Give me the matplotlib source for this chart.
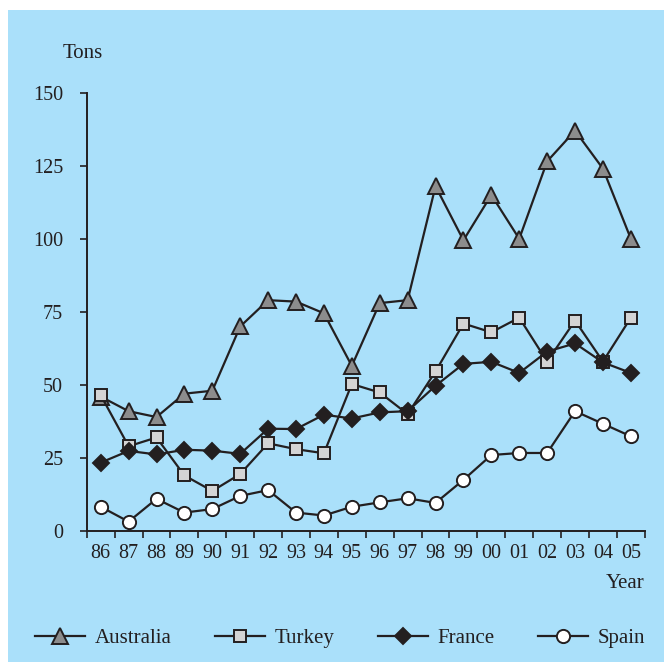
import matplotlib
matplotlib.use('Agg')
import matplotlib.pyplot as plt
from matplotlib.patches import Rectangle

# Datos
years = ['86', '87', '88', '89', '90', '91', '92', '93', '94', '95',
         '96', '97', '98', '99', '00', '01', '02', '03', '04', '05']
australia = [46, 41, 39, 47, 48, 70, 79, 78.5, 74.5, 56.5,
             78, 79, 118, 99.5, 115, 100, 126.5, 137, 124, 100]
turkey = [46.5, 29, 32, 19, 13.7, 19.5, 30, 28, 26.6, 50.3,
          47.4, 40, 54.6, 71, 68, 73, 58, 72, 58, 73]
france = [23.4, 27.4, 26.2, 27.8, 27.5, 26.4, 35, 34.9, 39.8, 38.5,
          40.6, 41, 49.7, 57.2, 57.9, 54.1, 61.4, 64.2, 57.7, 54.1]
spain = [8.3, 3.2, 11, 6.3, 7.5, 12, 14, 6.3, 5.3, 8.3,
         9.8, 11.2, 9.6, 17.5, 26, 26.7, 26.7, 41, 36.7, 32.4]
y_ticks = [0, 25, 50, 75, 100, 125, 150]

INK = '#231f20'
BG = '#aae0fa'

plt.rcParams['font.family'] = ['Liberation Serif', 'DejaVu Serif']


def plot_tons(figure_size=(6.64, 6.62)):
    fig = plt.figure(figsize=figure_size, dpi=100)
    W, H = 664, 662

    # Fondo azul con margen blanco arriba e izquierda
    fig.patches.append(Rectangle((8 / W, 0), 1, (H - 10) / H,
                                 transform=fig.transFigure,
                                 facecolor=BG, edgecolor='none', zorder=-10))

    ax = fig.add_axes([86.75 / W, (H - 531) / H,
                       (644.8 - 86.75) / W, (531 - 92.7) / H])
    ax.set_facecolor('none')

    x = list(range(len(years)))
    series = [
        ('Australia', australia, '^', '#8c8c8c', 12),
        ('Turkey', turkey, 's', '#d4d4d4', 9),
        ('France', france, 'D', INK, 8.3),
        ('Spain', spain, 'o', 'white', 9.5),
    ]
    handles = []
    for name, data, marker, fill, ms in series:
        line, = ax.plot(x, data, color=INK, lw=1.6, marker=marker,
                        markersize=ms, markerfacecolor=fill,
                        markeredgecolor=INK, markeredgewidth=1.4,
                        clip_on=False, label=name)
        handles.append(line)

    ax.set_xlim(-0.5, len(years) - 0.5)
    ax.set_ylim(0, 150)

    ax.set_xticks(x)
    ax.set_xticklabels(years)
    ax.set_xticks([i - 0.5 for i in range(len(years) + 1)], minor=True)
    ax.tick_params(axis='x', which='major', length=0, pad=9,
                   labelsize=14.5, labelcolor=INK)
    ax.tick_params(axis='x', which='minor', length=5, width=1.2,
                   color=INK, direction='out')
    ax.set_yticks(y_ticks)
    ax.tick_params(axis='y', length=5, width=1.2, color=INK, pad=12,
                   labelsize=14.5, labelcolor=INK)

    for side in ('top', 'right'):
        ax.spines[side].set_visible(False)
    for side in ('left', 'bottom'):
        ax.spines[side].set_color(INK)
        ax.spines[side].set_linewidth(1.4)

    fig.text(83 / W, (H - 54) / H, 'Tons', ha='center', va='center',
             fontsize=15, color=INK)
    fig.text(625 / W, (H - 584) / H, 'Year', ha='center', va='center',
             fontsize=15, color=INK)

    leg = fig.legend(handles=handles, loc='center', ncol=4,
                     bbox_to_anchor=(340 / W, (H - 638) / H),
                     frameon=False, fontsize=15, handlelength=2.4,
                     handletextpad=0.45, columnspacing=2.1)
    for text in leg.get_texts():
        text.set_color(INK)

    return fig


fig = plot_tons()
fig.savefig('out.png', dpi=100, facecolor='white')
plt.close(fig)
